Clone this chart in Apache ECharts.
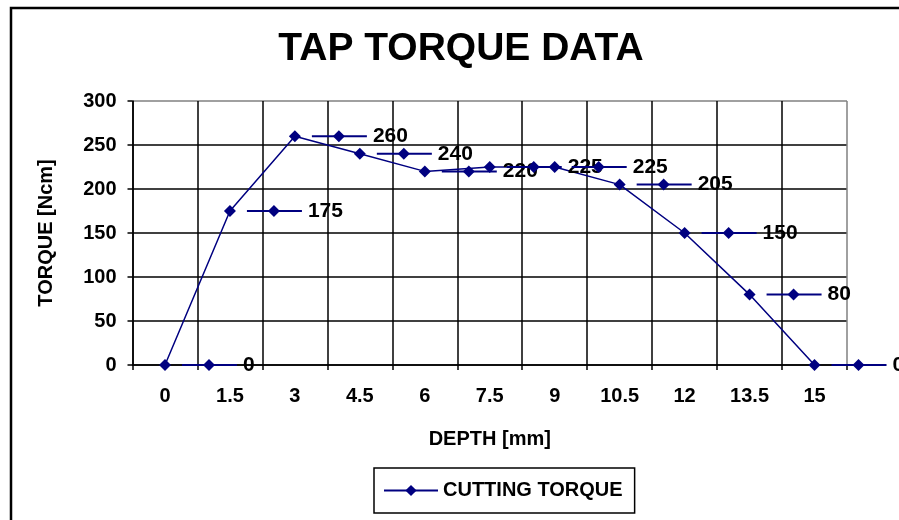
<!DOCTYPE html>
<html>
<head>
<meta charset="utf-8">
<script src="https://cdn.jsdelivr.net/npm/echarts@6/dist/echarts.min.js"></script>
<style>
html,body{margin:0;padding:0;background:#fff;}
#c{width:899px;height:520px;}
</style>
</head>
<body>
<div id="c"></div>
<script>
var categories = ['0','1.5','3','4.5','6','7.5','9','10.5','12','13.5','15'];
var torque = [0,175,260,240,220,225,225,205,150,80,0];
var yTicks = [0,50,100,150,200,250,300];
var seriesName = 'CUTTING TORQUE';

var FONT = '"Liberation Sans", Arial, sans-serif';
var NAVY = '#000080';

var chart = echarts.init(document.getElementById('c'), null, {renderer:'canvas'});

var labelData = torque.map(function(v,i){ return [i, v]; });

var xSplitColors = categories.map(function(){ return '#000'; });
xSplitColors.push('#808080');
var ySplitColors = yTicks.map(function(t,i){ return i === yTicks.length-1 ? '#808080' : '#000'; });

chart.setOption({
  backgroundColor:'#fff',
  animation:false,
  graphic:[
    {type:'rect', shape:{x:11,y:8,width:1000,height:1000}, style:{fill:'none', stroke:'#000', lineWidth:2.5}, z:0},
    {type:'text', style:{x:461, y:49, text:'TAP TORQUE DATA', align:'center', verticalAlign:'middle', font:'bold 39px ' + FONT, fill:'#000'}}
  ],
  grid:{left:132.5, right:52, top:101, bottom:155},
  legend:{
    left:374, top:468,
    padding:[11,12,11,9],
    borderColor:'#000', borderWidth:1.5,
    itemWidth:54, itemHeight:14, itemGap:5,
    textStyle:{fontFamily:FONT, fontWeight:'bold', fontSize:20, color:'#000', lineHeight:23},
    data:[seriesName]
  },
  xAxis:{
    type:'category',
    data:categories,
    boundaryGap:true,
    name:'DEPTH [mm]',
    nameLocation:'middle',
    nameGap:64,
    nameTextStyle:{fontFamily:FONT, fontWeight:'bold', fontSize:20, color:'#000', verticalAlign:'top'},
    axisLine:{show:true, lineStyle:{color:'#000', width:1.5}},
    axisTick:{show:true, interval:0, alignWithLabel:false, length:5, lineStyle:{color:'#000', width:1.5}},
    axisLabel:{interval:0, margin:21, fontFamily:FONT, fontWeight:'bold', fontSize:20, color:'#000'},
    splitLine:{show:true, interval:0, lineStyle:{color:xSplitColors, width:1.5}}
  },
  yAxis:{
    type:'value',
    min:0, max:300, interval:50,
    name:'TORQUE [Ncm]',
    nameLocation:'middle',
    nameGap:76,
    nameRotate:90,
    nameTextStyle:{fontFamily:FONT, fontWeight:'bold', fontSize:20, color:'#000'},
    axisLine:{show:true, lineStyle:{color:'#000', width:1.5}},
    axisTick:{show:true, length:5, lineStyle:{color:'#000', width:1.5}},
    axisLabel:{margin:16, fontFamily:FONT, fontWeight:'bold', fontSize:20, color:'#000'},
    splitLine:{show:true, lineStyle:{color:ySplitColors, width:1.5}}
  },
  series:[
    {
      name:seriesName,
      type:'line',
      data:torque,
      symbol:'diamond',
      symbolSize:12,
      showAllSymbol:true,
      lineStyle:{color:NAVY, width:1.5},
      itemStyle:{color:NAVY},
      z:3
    },
    {
      name:'labels',
      type:'custom',
      data:labelData,
      encode:{x:0, y:1},
      clip:false,
      z:4,
      silent:true,
      renderItem:function(params, api){
        var pt = api.coord([api.value(0), api.value(1)]);
        var x = pt[0], y = pt[1];
        return {
          type:'group',
          children:[
            {type:'line', shape:{x1:x+17, y1:y, x2:x+72, y2:y}, style:{stroke:NAVY, lineWidth:2}},
            {type:'polygon', shape:{points:[[x+44,y-6],[x+50,y],[x+44,y+6],[x+38,y]]}, style:{fill:NAVY}},
            {type:'text', style:{x:x+78, y:y, text:String(api.value(1)), font:'bold 21px ' + FONT, fill:'#000', align:'left', verticalAlign:'middle'}}
          ]
        };
      }
    }
  ]
});
</script>
</body>
</html>
